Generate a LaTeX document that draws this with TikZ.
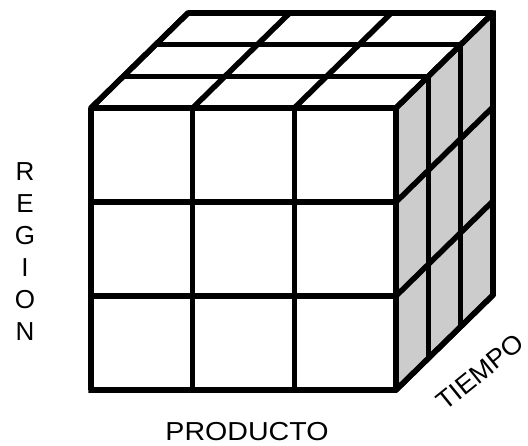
\documentclass[tikz,border=0pt]{standalone}
\usepackage{fontspec}
\setmainfont{Liberation Sans}
\definecolor{sidegray}{HTML}{CCCCCC}
\begin{document}
\begin{tikzpicture}[x=1pt,y=-1pt,
  grid/.style={line width=5.5pt,line join=miter,line cap=butt},
  lbl/.style={font=\fontsize{26}{32}\selectfont,inner sep=0pt,text=black}]
\useasboundingbox (0,0) rectangle (528,445);
\def\xa{91}\def\xb{396}\def\ya{108}\def\yb{390}
\def\dx{97}\def\dy{-95}
% side face fill
\fill[sidegray] (\xb,\ya) -- ++(\dx,\dy) -- (\xb+\dx,\yb+\dy) -- (\xb,\yb) -- cycle;
% front grid
\foreach \i in {0,1,2,3}{
  \draw[grid] ({\xa+\i*(\xb-\xa)/3},\ya) -- ({\xa+\i*(\xb-\xa)/3},\yb);
  \draw[grid] (\xa,{\ya+\i*(\yb-\ya)/3}) -- (\xb,{\ya+\i*(\yb-\ya)/3});
}
% top face
\foreach \k in {1,2,3}{
  \draw[grid] ({\xa+\k*\dx/3},{\ya+\k*\dy/3}) -- ({\xb+\k*\dx/3},{\ya+\k*\dy/3});
}
\foreach \i in {0,1,2,3}{
  \draw[grid] ({\xa+\i*(\xb-\xa)/3},\ya) -- ++(\dx,\dy);
}
% side face
\foreach \k in {1,2,3}{
  \draw[grid] ({\xb+\k*\dx/3},{\ya+\k*\dy/3}) -- ({\xb+\k*\dx/3},{\yb+\k*\dy/3});
}
\foreach \j in {0,1,2,3}{
  \draw[grid] (\xb,{\ya+\j*(\yb-\ya)/3}) -- ++(\dx,\dy);
}
% outer outline corners
\draw[grid] (\xa,\yb) -- (\xa,\ya) -- ++(\dx,\dy) -- (\xb+\dx,\ya+\dy) -- (\xb+\dx,\yb+\dy) -- (\xb,\yb) -- cycle;
% labels
\node[lbl,align=center,anchor=north] (region) at (25,162) {R\\E\\G\\I\\O\\N};
\node[lbl,anchor=base] (producto) at (247,440) {\scalebox{1.1}[1]{PRODUCTO}};
\node[lbl,rotate=39] (tiempo) at (480,372) {\scalebox{1.04}[1]{TIEMPO}};
\end{tikzpicture}
\end{document}
